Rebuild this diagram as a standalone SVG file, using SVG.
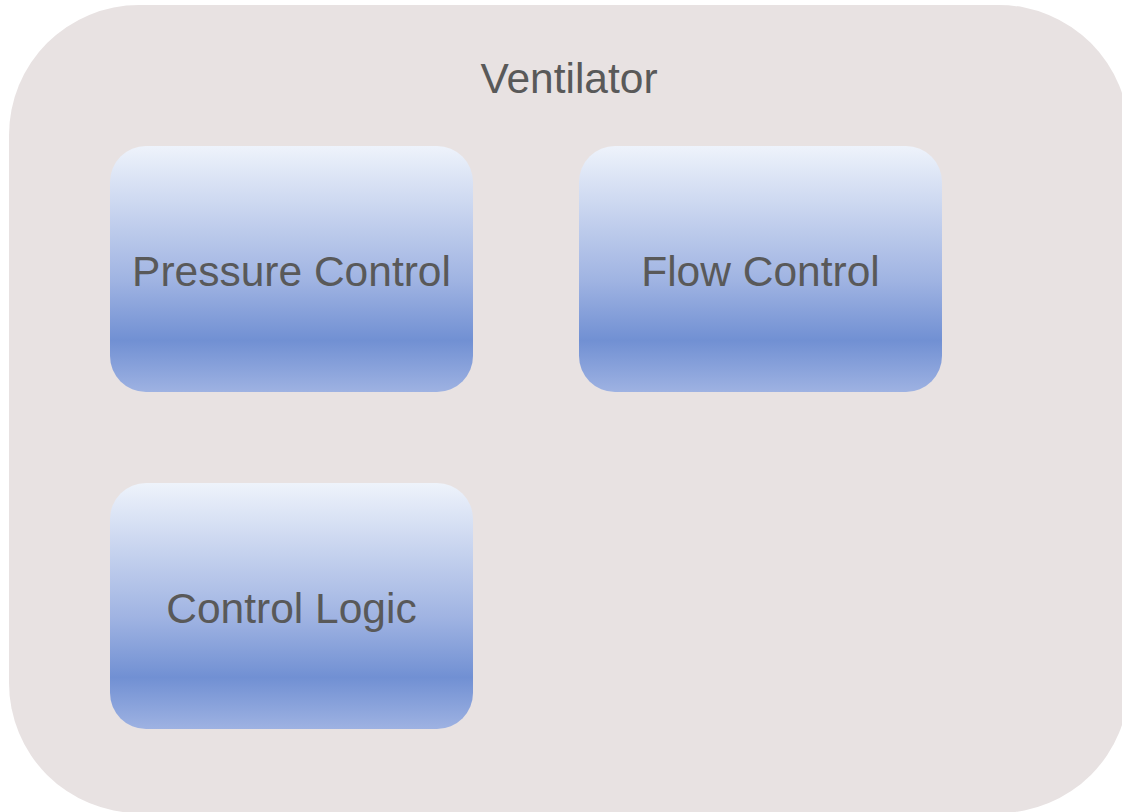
<svg xmlns="http://www.w3.org/2000/svg" width="1122" height="812" viewBox="0 0 1122 812">
<defs>
<linearGradient id="nodeGrad" x1="0" y1="0" x2="0" y2="1">
<stop offset="0" stop-color="#eef3fb"/>
<stop offset="0.55" stop-color="#9fb3e2"/>
<stop offset="0.79" stop-color="#7190d3"/>
<stop offset="1" stop-color="#9eb2e2"/>
</linearGradient>
</defs>
<style>
.label{font-family:"Liberation Sans",Arial,sans-serif;font-size:42.5px;fill:#595959;text-anchor:middle}
.node{fill:url(#nodeGrad)}
</style>
<g id="ventilator">
<rect x="9" y="5" width="1120" height="808" rx="130" ry="130" fill="#e8e2e2"/>
<text class="label" x="569" y="93">Ventilator</text>
</g>
<g id="pressure-control">
<rect class="node" x="110" y="146" width="363" height="246" rx="36" ry="36"/>
<text class="label" x="291.5" y="286">Pressure Control</text>
</g>
<g id="flow-control">
<rect class="node" x="579" y="146" width="363" height="246" rx="36" ry="36"/>
<text class="label" x="760.5" y="286">Flow Control</text>
</g>
<g id="control-logic">
<rect class="node" x="110" y="483" width="363" height="246" rx="36" ry="36"/>
<text class="label" x="291.5" y="623">Control Logic</text>
</g>
<g id="connectors"></g>
</svg>
